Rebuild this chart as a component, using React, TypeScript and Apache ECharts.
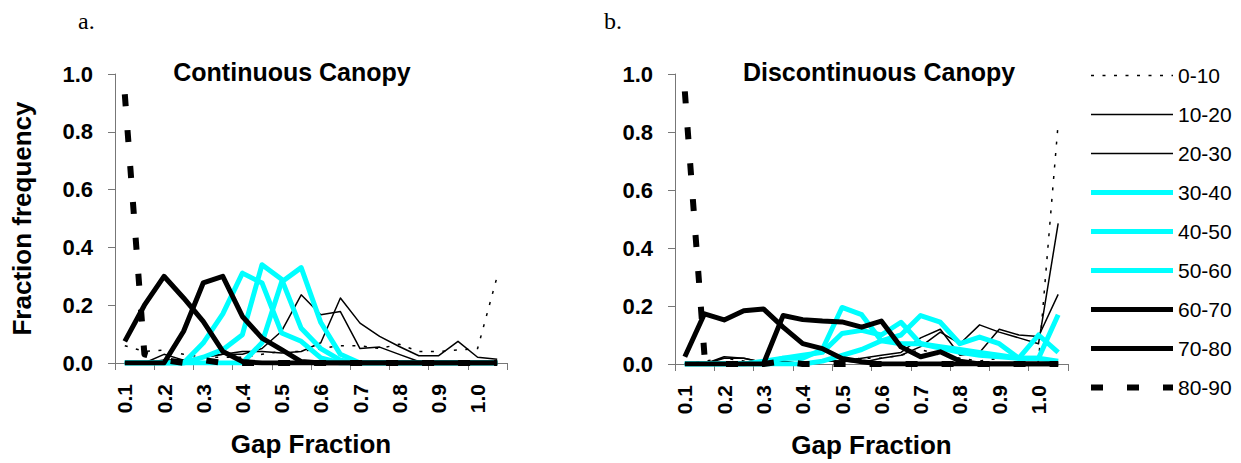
import React, { useEffect, useRef } from "react";
import * as echarts from "echarts";

// Gap fraction categories (bins); labels shown every other category
const gapCategories = [
  "0.1", "0.15", "0.2", "0.25", "0.3", "0.35", "0.4", "0.45", "0.5", "0.55",
  "0.6", "0.65", "0.7", "0.75", "0.8", "0.85", "0.9", "0.95", "1.0", "1.05",
];

const classNames = ["0-10", "10-20", "20-30", "30-40", "40-50", "50-60", "60-70", "70-80", "80-90"];

// Continuous canopy
const c00_10 = [0.06, 0.04, 0.045, 0.03, 0.02, 0.02, 0.02, 0.03, 0.04, 0.04, 0.05, 0.06, 0.06, 0.05, 0.065, 0.04, 0.04, 0.045, 0.05, 0.3];
const c10_20 = [0, 0, 0.01, 0.01, 0.02, 0.03, 0.04, 0.04, 0.035, 0.04, 0.07, 0.225, 0.138, 0.092, 0.057, 0.025, 0.025, 0.075, 0.02, 0.013];
const c20_30 = [0, 0, 0.03, 0.01, 0.02, 0.03, 0.03, 0.05, 0.11, 0.236, 0.167, 0.178, 0.05, 0.055, 0.03, 0.005, 0, 0, 0, 0];
const c30_40 = [0, 0, 0, 0, 0, 0, 0, 0.07, 0.28, 0.33, 0.14, 0.03, 0, 0, 0, 0, 0, 0, 0, 0];
const c40_50 = [0, 0, 0, 0, 0.02, 0.046, 0.098, 0.34, 0.29, 0.12, 0.05, 0.01, 0, 0, 0, 0, 0, 0, 0, 0];
const c50_60 = [0, 0, 0, 0, 0.069, 0.17, 0.311, 0.277, 0.104, 0.075, 0.018, 0, 0, 0, 0, 0, 0, 0, 0, 0];
const c60_70 = [0, 0, 0, 0.11, 0.277, 0.3, 0.161, 0.086, 0.046, 0.005, 0, 0, 0, 0, 0, 0, 0, 0, 0, 0];
const c70_80 = [0.075, 0.2, 0.3, 0.225, 0.144, 0.04, 0.005, 0, 0, 0, 0, 0, 0, 0, 0, 0, 0, 0, 0, 0];
const c80_90 = [0.93, 0.03, 0.01, 0, 0.01, 0, 0, 0, 0, 0, 0, 0, 0, 0, 0, 0, 0, 0, 0, 0];

// Discontinuous canopy
const d00_10 = [0, 0.01, 0.02, 0.01, 0, 0, 0, 0.01, 0.01, 0.02, 0.02, 0.03, 0.05, 0.03, 0.02, 0.01, 0.02, 0.02, 0.01, 0.83];
const d10_20 = [0, 0, 0.02, 0.02, 0.005, 0, 0, 0.01, 0.01, 0.005, 0.02, 0.03, 0.06, 0.11, 0.07, 0.135, 0.11, 0.09, 0.07, 0.485];
const d20_30 = [0, 0, 0.025, 0.02, 0.005, 0.01, 0, 0.01, 0.01, 0.02, 0.03, 0.04, 0.09, 0.12, 0.03, 0.04, 0.12, 0.1, 0.095, 0.24];
const d30_40 = [0, 0, 0, 0, 0, 0, 0, 0.01, 0.03, 0.05, 0.08, 0.1, 0.167, 0.144, 0.07, 0.093, 0.07, 0.02, 0.02, 0.17];
const d40_50 = [0, 0, 0, 0, 0, 0.02, 0.03, 0.04, 0.105, 0.116, 0.1, 0.144, 0.07, 0.06, 0.05, 0.04, 0.03, 0.02, 0.1, 0.04];
const d50_60 = [0, 0, 0, 0, 0.01, 0.02, 0.02, 0.05, 0.195, 0.17, 0.08, 0.07, 0.07, 0.055, 0.04, 0.03, 0.025, 0.02, 0.02, 0.01];
const d60_70 = [0, 0, 0, 0, 0, 0.167, 0.153, 0.148, 0.145, 0.127, 0.148, 0.059, 0.025, 0.042, 0.01, 0, 0, 0, 0, 0];
const d70_80 = [0.025, 0.173, 0.152, 0.184, 0.19, 0.127, 0.07, 0.053, 0.019, 0.008, 0, 0, 0, 0, 0, 0, 0, 0, 0, 0];
const d80_90 = [0.94, 0.03, 0, 0, 0, 0.01, 0, 0, 0, 0, 0, 0, 0, 0, 0, 0, 0, 0, 0, 0];

const continuousData = [c00_10, c10_20, c20_30, c30_40, c40_50, c50_60, c60_70, c70_80, c80_90];
const discontinuousData = [d00_10, d10_20, d20_30, d30_40, d40_50, d50_60, d60_70, d70_80, d80_90];

const FONT = "'Liberation Sans', Arial, Helvetica, sans-serif";
const CYAN = "#00FFFF";

const lineStyles: any[] = [
  { color: "#000", width: 1.5, type: [3, 8.5] },
  { color: "#000", width: 1.5, type: "solid" },
  { color: "#000", width: 1.5, type: "solid" },
  { color: CYAN, width: 5, type: "solid" },
  { color: CYAN, width: 5, type: "solid" },
  { color: CYAN, width: 5, type: "solid" },
  { color: "#000", width: 5, type: "solid" },
  { color: "#000", width: 5, type: "solid" },
  { color: "#000", width: 6, type: [12, 24] },
];

function buildSeries(datas: number[][], gridIndex: number) {
  return datas.map((d, i) => ({
    type: "line",
    name: classNames[i],
    xAxisIndex: gridIndex,
    yAxisIndex: gridIndex,
    data: d,
    symbol: "none",
    lineStyle: { ...lineStyles[i], join: "round" },
    itemStyle: { color: lineStyles[i].color },
    z: 2 + i,
  }));
}

const axisColor = "#777";

function xAxisCfg(gridIndex: number) {
  return {
    type: "category",
    gridIndex,
    data: gapCategories,
    boundaryGap: true,
    axisLine: { show: true, lineStyle: { color: axisColor, width: 1 } },
    axisTick: { show: true, interval: 1, length: 7, lineStyle: { color: axisColor } },
    axisLabel: {
      interval: 1,
      rotate: 90,
      margin: 21,
      fontSize: 21,
      fontWeight: "bold",
      fontFamily: FONT,
      color: "#000",
      formatter: (v: string) => Number(v).toFixed(1),
    },
    splitLine: { show: false },
    name: "Gap Fraction",
    nameLocation: "middle",
    nameGap: 68,
    nameTextStyle: { fontSize: 26, fontWeight: "bold", fontFamily: FONT, color: "#000" },
  };
}

function yAxisCfg(gridIndex: number, withName: boolean) {
  return {
    type: "value",
    gridIndex,
    min: 0,
    max: 1,
    interval: 0.2,
    axisLine: { show: true, lineStyle: { color: axisColor, width: 1 } },
    axisTick: { show: true, length: 7, lineStyle: { color: axisColor } },
    axisLabel: {
      margin: 22,
      fontSize: 22,
      fontWeight: "bold",
      fontFamily: FONT,
      color: "#000",
      formatter: (v: number) => v.toFixed(1),
    },
    splitLine: { show: false },
    name: withName ? "Fraction frequency" : "",
    nameLocation: "middle",
    nameGap: 80,
    nameTextStyle: { fontSize: 26, fontWeight: "bold", fontFamily: FONT, color: "#000" },
  };
}

export default function App() {
  const ref = useRef<HTMLDivElement>(null);
  useEffect(() => {
    if (!ref.current) return;
    const chart = echarts.init(ref.current, undefined, { renderer: "svg" });
    chart.setOption({
      animation: false,
      backgroundColor: "#fff",
      grid: [
        { left: 115, top: 74, width: 392, height: 289 },
        { left: 675, top: 74, width: 393, height: 293 },
      ],
      xAxis: [xAxisCfg(0), xAxisCfg(1)],
      yAxis: [yAxisCfg(0, true), yAxisCfg(1, false)],
      legend: {
        data: classNames,
        orient: "vertical",
        left: 1088,
        top: 65,
        padding: 0,
        itemWidth: 82,
        itemHeight: 20,
        itemGap: 18,
        selectedMode: false,
        itemStyle: { opacity: 0, borderWidth: 0 },
        lineStyle: { width: "inherit" },
        textStyle: { fontSize: 21, fontFamily: FONT, color: "#000", lineHeight: 20 },
      },
      graphic: [
        {
          type: "text",
          x: 292,
          y: 72,
          style: { text: "Continuous Canopy", font: `bold 25px ${FONT}`, fill: "#000", align: "center", verticalAlign: "middle" },
        },
        {
          type: "text",
          x: 879,
          y: 72,
          style: { text: "Discontinuous Canopy", font: `bold 25px ${FONT}`, fill: "#000", align: "center", verticalAlign: "middle" },
        },
        {
          type: "text",
          x: 78,
          y: 21,
          style: { text: "a.", font: "24px 'Liberation Serif', 'Times New Roman', serif", fill: "#000", align: "left", verticalAlign: "middle" },
        },
        {
          type: "text",
          x: 604,
          y: 21,
          style: { text: "b.", font: "24px 'Liberation Serif', 'Times New Roman', serif", fill: "#000", align: "left", verticalAlign: "middle" },
        },
      ],
      series: [...buildSeries(continuousData, 0), ...buildSeries(discontinuousData, 1)],
    });
    return () => chart.dispose();
  }, []);
  return <div ref={ref} style={{ width: 1241, height: 463, position: "absolute", left: 0, top: 0 }} />;
}
